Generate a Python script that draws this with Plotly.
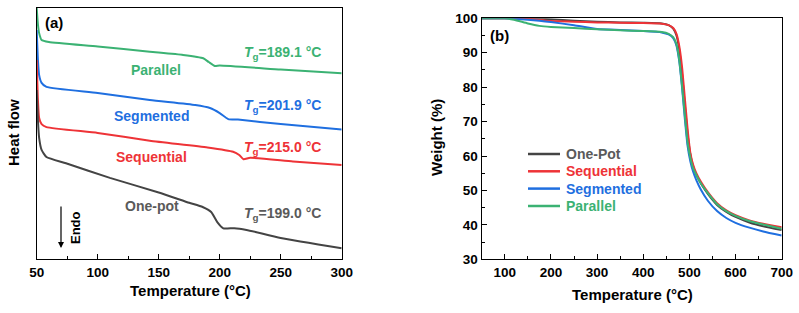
import plotly.graph_objects as go

W, H = 799, 313
def PX(x): return x / W
def PY(y): return 1 - y / H

FONT = "Liberation Sans"
C_GREEN = "#3bb273"
C_RED = "#ee3337"
C_BLUE = "#1f6fe0"
C_BLACK = "#444444"
C_GRAY = "#5a5a5a"

# ---------------- (a) DSC data (arbitrary heat-flow units) ----------------
dsc_T_parallel = [50, 51, 52, 54, 60, 100, 142.7, 170, 186.5, 191, 196, 200, 250, 300]
dsc_parallel = [100, 93.5, 90, 87.3, 86.5, 84.7, 82.6, 81.3, 80, 78.5, 76.9, 77.1, 75.5, 74.0]

dsc_T_segmented = [50, 51, 52, 54, 58, 100, 142.7, 180, 192, 200, 207, 215, 250, 300]
dsc_segmented = [91.2, 79.3, 73.3, 70.2, 68.6, 66.2, 63.4, 61.4, 60.2, 58.2, 55.8, 55.6, 53.8, 51.7]

dsc_T_sequential = [50, 51, 52, 54, 58, 100, 142.7, 190, 211, 216, 219.5, 225, 260, 300]
dsc_sequential = [79.3, 63.4, 56.2, 53.8, 52.6, 50.3, 47.2, 44.5, 42.8, 41.5, 39.8, 40.4, 38.9, 37.5]

dsc_T_onepot = [50, 51, 52, 54, 58, 74, 110, 150, 175, 186, 193, 198, 203, 212, 222, 250, 300]
dsc_onepot = [67.4, 55.4, 48.3, 43.5, 40.7, 38.2, 32.4, 26.6, 22.5, 20.8, 18.8, 14.8, 12.3, 12.4, 11.7, 8.5, 4.4]

# ---------------- (b) TGA data ----------------
tga_T = [50, 100, 120, 150, 175, 200, 250, 300, 350, 400, 440, 455, 465, 472, 478, 484,
         490, 496, 502, 508, 515, 525, 540, 560, 580, 600, 630, 660, 700]
tga_onepot = [100, 100, 100, 100, 99.9, 99.7, 99.3, 99.0, 98.8, 98.7, 98.5, 98.0, 97.0, 95, 91, 84,
              75, 66.5, 60.5, 57, 54.5, 52, 49, 45.8, 43.8, 42.3, 40.7, 39.6, 38.5]
tga_sequential = [100, 100, 100, 99.9, 99.5, 99.2, 99.0, 98.8, 98.7, 98.6, 98.4, 98.0, 97.2, 95.5, 92, 86,
                  77, 68, 61, 57.5, 55, 52.5, 49.5, 46.3, 44.2, 42.8, 41.3, 40.3, 39.3]
tga_segmented = [100, 100, 99.9, 99.6, 99.3, 98.9, 98.0, 96.9, 96.6, 96.3, 95.9, 95.3, 94.2, 92, 87.5, 80,
                 71, 63, 58.5, 55.5, 53, 50.2, 47, 44, 42, 40.6, 39.2, 38.1, 36.9]
tga_parallel = [100, 100, 99.6, 98.5, 97.8, 97.5, 97.2, 96.8, 96.5, 96.3, 96.0, 95.5, 94.5, 92.5, 88, 80.5,
                72, 64, 59.5, 56.5, 54.5, 52, 49.2, 46, 44, 42.6, 41.1, 40.1, 38.9]

dsc_labels = ["Parallel", "Segmented", "Sequential", "One-pot"]
tg_labels = ["189.1", "201.9", "215.0", "199.0"]
tga_names = ["One-Pot", "Sequential", "Segmented", "Parallel"]

fig = go.Figure()

dsc_series = [
    (dsc_T_parallel, dsc_parallel, C_GREEN),
    (dsc_T_segmented, dsc_segmented, C_BLUE),
    (dsc_T_sequential, dsc_sequential, C_RED),
    (dsc_T_onepot, dsc_onepot, C_BLACK),
]
for xs, ys, c in dsc_series:
    fig.add_trace(go.Scatter(x=xs, y=ys, mode="lines", xaxis="x", yaxis="y",
                             line=dict(color=c, width=2, shape="spline", smoothing=0.5),
                             showlegend=False, hoverinfo="skip"))

tga_series = [
    (tga_onepot, C_BLACK), (tga_sequential, C_RED), (tga_segmented, C_BLUE), (tga_parallel, C_GREEN)
]
for ys, c in tga_series:
    fig.add_trace(go.Scatter(x=tga_T, y=ys, mode="lines", xaxis="x2", yaxis="y2",
                             line=dict(color=c, width=2, shape="spline", smoothing=0.5),
                             showlegend=False, hoverinfo="skip"))

axis_common = dict(showline=True, linecolor="black", linewidth=1.3, mirror=True,
                   showgrid=False, zeroline=False, automargin=False,
                   tickfont=dict(family=FONT, size=13.5, color="black", weight="bold"))

fig.update_layout(
    template="none",
    width=W, height=H, margin=dict(l=0, r=0, t=0, b=0, pad=0, autoexpand=False),
    paper_bgcolor="white", plot_bgcolor="white",
    xaxis=dict(domain=[PX(36.7), PX(341.7)], range=[50, 300], anchor="y",
               ticks="inside", ticklen=5, tickwidth=1.2, tickcolor="black",
               tick0=0, dtick=50,
               minor=dict(ticks="inside", ticklen=3, dtick=25, tick0=0, tickcolor="black", tickwidth=1.2),
               **axis_common),
    yaxis=dict(domain=[PY(259.3), PY(8)], range=[0, 100], anchor="x",
               ticks="", showticklabels=False, **axis_common),
    xaxis2=dict(domain=[PX(481.7), PX(781.7)], range=[50, 700], anchor="y2",
                ticks="inside", ticklen=5, tickwidth=1.2, tickcolor="black",
                tick0=0, dtick=100,
                minor=dict(ticks="inside", ticklen=3, dtick=50, tick0=0, tickcolor="black", tickwidth=1.2),
                **axis_common),
    yaxis2=dict(domain=[PY(259.3), PY(18.3)], range=[30, 100], anchor="x2",
                ticks="inside", ticklen=5, tickwidth=1.2, tickcolor="black",
                tick0=0, dtick=10,
                minor=dict(ticks="inside", ticklen=3, dtick=5, tick0=0, tickcolor="black", tickwidth=1.2),
                **axis_common),
)

ann = []
def text(x, y, s, color="black", size=14, xanchor="center", yanchor="middle", angle=0):
    ann.append(dict(x=PX(x), y=PY(y), xref="paper", yref="paper", text=s, showarrow=False,
                    xanchor=xanchor, yanchor=yanchor, textangle=angle,
                    font=dict(family=FONT, size=size, color=color, weight="bold")))

# axis titles
text(190, 290, "Temperature (°C)", size=15)
text(632, 294, "Temperature (°C)", size=15)
text(13, 133, "Heat flow", size=15, angle=-90)
text(437, 138, "Weight (%)", size=15, angle=-90)

# panel tags
text(43, 23, "(a)", size=15, xanchor="left")
text(488, 35, "(b)", size=15, xanchor="left")

# DSC labels
label_pos = [(156, 70), (151, 115.7), (151, 156.7), (152, 206)]
label_cols = [C_GREEN, C_BLUE, C_RED, C_GRAY]
for s, (x, y), c in zip(dsc_labels, label_pos, label_cols):
    text(x, y, s, color=c)

tg_pos = [53, 106, 148, 214]
for s, y, c in zip(tg_labels, tg_pos, label_cols):
    text(242, y, "<i>T</i><sub>g</sub>=" + s + " °C", color=c, xanchor="left")

# Endo arrow
ann.append(dict(x=PX(61), y=PY(248), xref="paper", yref="paper", ax=0, ay=-43,
                axref="pixel", ayref="pixel", showarrow=True, arrowhead=2, arrowsize=1,
                arrowwidth=1.2, arrowcolor="black", text=""))
text(75, 228, "Endo", size=13, angle=-90)

# manual legend for (b)
leg_y = [154, 171.3, 188.6, 206]
leg_cols = [C_BLACK, C_RED, C_BLUE, C_GREEN]
shapes = []
for s, y, c in zip(tga_names, leg_y, leg_cols):
    shapes.append(dict(type="line", xref="paper", yref="paper", x0=PX(528), x1=PX(560),
                       y0=PY(y), y1=PY(y), line=dict(color=c, width=2.5)))
    text(564, y, s, color=(C_GRAY if c == C_BLACK else c), xanchor="left")

fig.update_layout(annotations=ann, shapes=shapes)
fig.write_html("out.html")
